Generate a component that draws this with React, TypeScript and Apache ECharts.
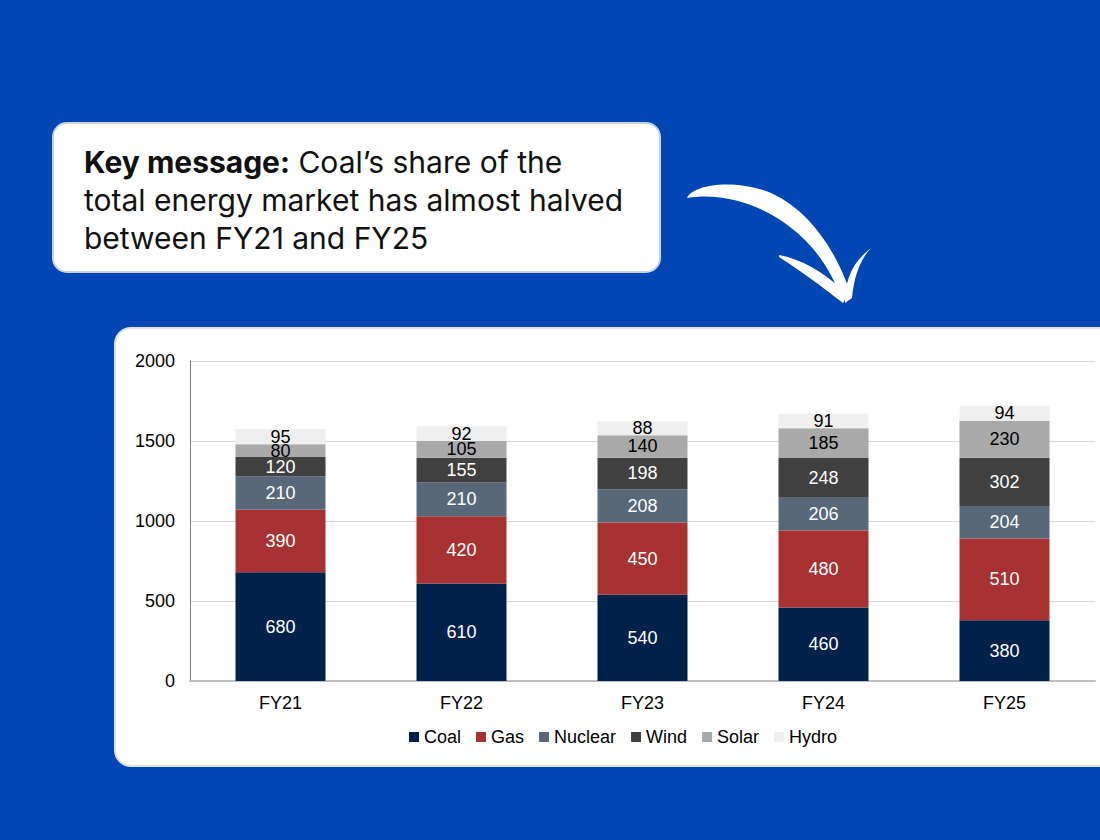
import React, { useEffect, useRef } from "react";
import * as echarts from "echarts";

const categories = ["FY21", "FY22", "FY23", "FY24", "FY25"];
const coal = [680, 610, 540, 460, 380];
const gas = [390, 420, 450, 480, 510];
const nuclear = [210, 210, 208, 206, 204];
const wind = [120, 155, 198, 248, 302];
const solar = [80, 105, 140, 185, 230];
const hydro = [95, 92, 88, 91, 94];
const seriesNames = ["Coal", "Gas", "Nuclear", "Wind", "Solar", "Hydro"];
const seriesColors = ["#00214A", "#A83232", "#586879", "#404040", "#A9A9A9", "#EFEFEF"];
const labelColors = ["#ffffff", "#ffffff", "#ffffff", "#ffffff", "#000000", "#000000"];
const seriesData = [coal, gas, nuclear, wind, solar, hydro];

const arrowD =
  "M 687 198 C 693 185 730 179 766 191 C 802 205 832 240 850 292 L 843 303 C 832 271 815 246 790 227 C 760 204 722 192 687 198 Z " +
  "M 779 255 C 800 259 823 271 841 289 L 843 303 C 825 289 804 273 779 257 Z " +
  "M 871 248 C 861 258 854 276 852 298 L 845 303 C 845 283 850 264 871 248 Z";

echarts.graphic.registerShape("arrowShape", echarts.graphic.extendPath(arrowD, {}) as any);

const FONT = "'Liberation Sans', Arial, sans-serif";
const FS = 18;

export default function App() {
  const ref = useRef<HTMLDivElement>(null);
  useEffect(() => {
    if (!ref.current) return;
    const chart = echarts.init(ref.current, undefined, { renderer: "svg" });
    chart.setOption({
      animation: false,
      backgroundColor: "#0047B3",
      textStyle: { fontFamily: FONT },
      graphic: [
        {
          type: "rect",
          z: 1,
          shape: { x: 53, y: 123, width: 607, height: 149, r: 14 },
          style: { fill: "#ffffff", stroke: "#C9D2E3", lineWidth: 2 },
        },
        {
          type: "text",
          z: 2,
          x: 84,
          y: 143,
          style: {
            text:
              "{b|Key message:}{n| Coal\u2019s share of the}\n{n|total energy market has almost halved}\n{n|between FY21 and FY25}",
            fontFamily: "Inter, sans-serif",
            fontSize: 30,
            lineHeight: 38,
            fill: "#111111",
            verticalAlign: "top",
            rich: {
              b: { fontFamily: "Inter, sans-serif", fontSize: 30, fontWeight: "bold", lineHeight: 38, fill: "#111111" },
              n: { fontFamily: "Inter, sans-serif", fontSize: 30, fontWeight: "normal", lineHeight: 38, fill: "#111111" },
            },
          },
        },
        {
          type: "arrowShape",
          z: 2,
          x: 0,
          y: 0,
          style: { fill: "#ffffff" },
        },
        {
          type: "rect",
          z: 1,
          shape: { x: 115, y: 328, width: 1010, height: 438, r: 16 },
          style: { fill: "#ffffff", stroke: "#DCE1EA", lineWidth: 2 },
        },
      ],
      grid: { left: 190, right: 5, top: 361, bottom: 159, containLabel: false },
      legend: {
        data: seriesNames,
        left: 404,
        top: 723,
        icon: "rect",
        itemWidth: 10,
        itemHeight: 10,
        itemGap: 15,
        z: 10,
        textStyle: { fontSize: FS, color: "#000000", fontFamily: FONT },
      },
      xAxis: {
        type: "category",
        data: categories,
        z: 5,
        axisLine: { show: true, lineStyle: { color: "#BFBFBF", width: 2 } },
        axisTick: { show: false },
        axisLabel: { fontSize: FS, color: "#000000", margin: 13, fontFamily: FONT },
      },
      yAxis: {
        type: "value",
        min: 0,
        max: 2000,
        interval: 500,
        z: 5,
        axisLine: { show: true, lineStyle: { color: "#808080", width: 1 } },
        axisTick: { show: false },
        splitLine: { show: true, lineStyle: { color: "#D9D9D9", width: 1 } },
        axisLabel: {
          fontSize: FS,
          color: "#000000",
          margin: 15,
          fontFamily: FONT,
          formatter: (v: number) => String(v),
        },
      },
      series: seriesNames.map((name, i) => ({
        name,
        type: "bar",
        stack: "total",
        z: 10,
        barWidth: 90,
        data: seriesData[i],
        itemStyle: { color: seriesColors[i] },
        label: {
          show: true,
          position: "inside",
          color: labelColors[i],
          fontSize: FS,
          fontFamily: FONT,
        },
      })),
    });
    return () => chart.dispose();
  }, []);
  return (
    <div
      ref={ref}
      style={{ position: "absolute", left: 0, top: 0, width: 1100, height: 840 }}
    />
  );
}
